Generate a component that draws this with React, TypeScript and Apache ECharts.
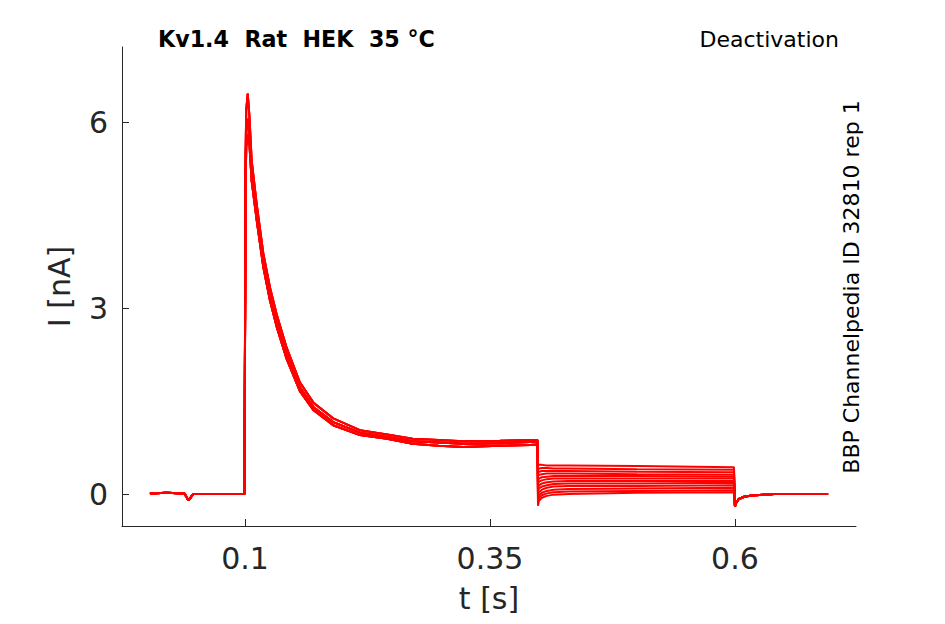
import React, { useEffect, useRef } from "react";
import * as echarts from "echarts";

// ---- data ----
const tPre = [0.003, 0.02, 0.038, 0.0405, 0.042, 0.044, 0.047, 0.06, 0.08, 0.0995];
const vPre = [0.01, 0.02, 0.01, -0.05, -0.1, -0.07, 0.0, 0.0, 0.0, 0.0];

const tAct = [0.1, 0.1006, 0.1013, 0.1028, 0.1045, 0.1068, 0.1119, 0.1187, 0.1255, 0.1323, 0.1425, 0.156, 0.17, 0.19, 0.2173, 0.245, 0.271, 0.2975, 0.3225, 0.36, 0.391, 0.3985];
const vActA = [0.0, 5.5, 6.2, 6.46, 6.1, 5.38, 4.68, 3.88, 3.33, 2.9, 2.36, 1.8, 1.47, 1.22, 1.03, 0.96, 0.89, 0.87, 0.85, 0.86, 0.87, 0.87];
const vActB = [0.0, 5.2, 5.85, 6.05, 5.85, 5.22, 4.55, 3.76, 3.22, 2.8, 2.26, 1.72, 1.4, 1.16, 0.99, 0.92, 0.85, 0.83, 0.81, 0.82, 0.84, 0.85];
const vActC = [0.0, 5.0, 5.6, 5.8, 5.65, 5.05, 4.42, 3.66, 3.12, 2.7, 2.18, 1.66, 1.35, 1.11, 0.95, 0.89, 0.81, 0.78, 0.76, 0.78, 0.79, 0.8];
const actVariants = [vActA, vActB, vActC];
const actOfTrace = [0, 1, 2, 1, 0, 2, 1, 2, 0, 1, 2, 1];

const tTail = [0.399, 0.4, 0.403, 0.408, 0.415, 0.43, 0.5, 0.599];
const vTails = [
  [0.46, 0.47, 0.47, 0.46, 0.46, 0.46, 0.45, 0.43],
  [0.40, 0.41, 0.42, 0.42, 0.41, 0.41, 0.40, 0.39],
  [0.34, 0.36, 0.37, 0.37, 0.37, 0.37, 0.36, 0.35],
  [0.28, 0.31, 0.32, 0.33, 0.33, 0.33, 0.32, 0.31],
  [0.22, 0.25, 0.27, 0.28, 0.29, 0.29, 0.29, 0.28],
  [0.16, 0.2, 0.22, 0.24, 0.25, 0.25, 0.25, 0.25],
  [0.10, 0.14, 0.17, 0.19, 0.2, 0.21, 0.21, 0.21],
  [0.04, 0.09, 0.12, 0.14, 0.16, 0.17, 0.17, 0.18],
  [-0.02, 0.03, 0.07, 0.1, 0.12, 0.13, 0.13, 0.14],
  [-0.08, -0.02, 0.02, 0.05, 0.07, 0.08, 0.09, 0.1],
  [-0.13, -0.06, -0.02, 0.01, 0.03, 0.04, 0.05, 0.06],
  [-0.19, -0.11, -0.06, -0.03, -0.01, 0.0, 0.02, 0.03],
];

const tPost = [0.6, 0.6015, 0.604, 0.61, 0.62, 0.64, 0.66, 0.695];
const vPost = [-0.2, -0.13, -0.08, -0.04, -0.02, 0.0, 0.0, 0.0];

const xTicks = [0.1, 0.35, 0.6];
const yTicks = [0, 3, 6];

const AXIS = "#262626";
const FONT = '"DejaVu Sans", sans-serif';

function zip(t: number[], v: number[]) {
  return t.map((x, i) => [x, v[i]]);
}

export default function App() {
  const ref = useRef<HTMLDivElement>(null);
  useEffect(() => {
    if (!ref.current) return;
    const chart = echarts.init(ref.current, undefined, { renderer: "svg" });
    const series = vTails.map((tail, i) => ({
      type: "line",
      showSymbol: false,
      silent: true,
      data: [
        ...zip(tPre, vPre),
        ...zip(tAct, actVariants[actOfTrace[i]]),
        ...zip(tTail, tail),
        ...zip(tPost, vPost),
      ],
      lineStyle: { color: "#ff0000", width: 2 },
      itemStyle: { color: "#ff0000" },
    }));
    chart.setOption({
      animation: false,
      textStyle: { fontFamily: FONT },
      grid: { left: 122, right: 89, top: 47, bottom: 98, containLabel: false },
      xAxis: {
        type: "value",
        min: -0.0255,
        max: 0.7235,
        name: "t [s]",
        nameLocation: "middle",
        nameGap: 57,
        nameTextStyle: { fontSize: 30, color: AXIS, fontFamily: FONT },
        splitLine: { show: false },
        axisLine: { onZero: false, lineStyle: { color: AXIS, width: 1 } },
        axisTick: { inside: true, length: 7, customValues: xTicks, lineStyle: { color: AXIS } },
        axisLabel: {
          customValues: xTicks,
          fontSize: 30,
          color: AXIS,
          margin: 17,
          fontFamily: FONT,
          formatter: (v: number) => String(v),
        },
      },
      yAxis: {
        type: "value",
        min: -0.516,
        max: 7.21,
        name: "I [nA]",
        nameLocation: "middle",
        nameGap: 48,
        nameTextStyle: { fontSize: 30, color: AXIS, fontFamily: FONT },
        splitLine: { show: false },
        axisLine: { show: true, onZero: false, lineStyle: { color: AXIS, width: 1 } },
        axisTick: { show: true, inside: true, length: 7, customValues: yTicks, lineStyle: { color: AXIS } },
        axisLabel: {
          customValues: yTicks,
          fontSize: 30,
          color: AXIS,
          margin: 14,
          fontFamily: FONT,
          formatter: (v: number) => String(v),
        },
      },
      graphic: [
        {
          type: "text",
          x: 158,
          y: 39,
          style: { text: "Kv1.4  Rat  HEK  35 °C", font: 'bold 22.2px "DejaVu Sans"', fill: "#000", align: "left", verticalAlign: "middle" },
        },
        {
          type: "text",
          x: 839,
          y: 39,
          style: { text: "Deactivation", font: '22px "DejaVu Sans"', fill: "#000", align: "right", verticalAlign: "middle" },
        },
        {
          type: "text",
          x: 851,
          y: 287,
          rotation: Math.PI / 2,
          style: { text: "BBP Channelpedia ID 32810 rep 1", font: '22px "DejaVu Sans"', fill: "#000", align: "center", verticalAlign: "middle" },
        },
      ],
      series,
    });
    return () => chart.dispose();
  }, []);
  return (
    <div
      ref={ref}
      style={{ position: "fixed", left: 0, top: 0, width: 945, height: 624, background: "#fff" }}
    />
  );
}
